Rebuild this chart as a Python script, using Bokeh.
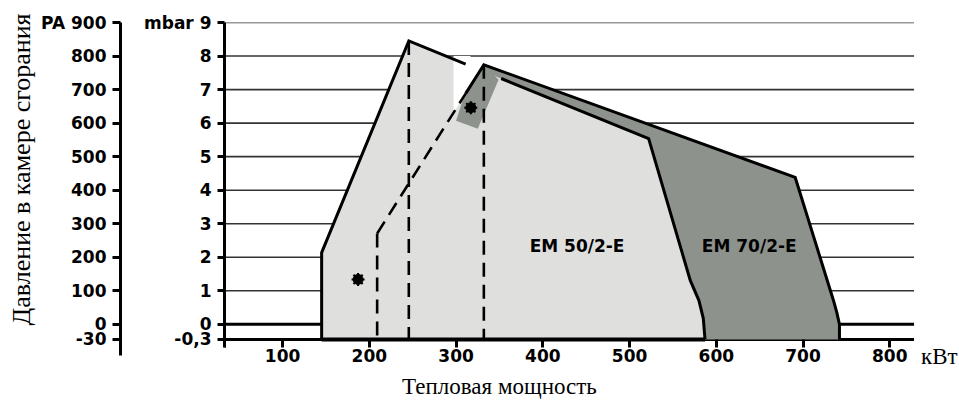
from bokeh.plotting import figure
from bokeh.models import Range1d, LinearAxis, FixedTicker, Title
from bokeh.core.properties import value
from bokeh.embed import file_html
from bokeh.resources import INLINE

# ---------------- data ----------------
x_ticks = [100, 200, 300, 400, 500, 600, 700, 800]
x_tick_labels = ["100", "200", "300", "400", "500", "600", "700", "800"]
mbar_ticks = [-0.3, 0, 1, 2, 3, 4, 5, 6, 7, 8, 9]
mbar_tick_labels = ["-0,3", "0", "1", "2", "3", "4", "5", "6", "7", "8", "mbar 9"]
pa_tick_labels = ["-30", "0", "100", "200", "300", "400", "500", "600", "700", "800", "PA 900"]

# EM 50/2-E working field (kW, mbar)
em50_kw = [145, 145, 245.5, 522, 570, 580, 585, 587]
em50_mbar = [-0.3, 2.14, 8.45, 5.54, 1.31, 0.71, 0.18, -0.3]
# EM 70/2-E working field (kW, mbar)
em70_kw = [209, 209, 332, 691, 735, 739, 742, 742]
em70_mbar = [-0.3, 2.71, 7.74, 4.38, 0.72, 0.35, 0.0, -0.3]

# break in the EM 50 outline (white notch) and highlighted patch
notch_kw = [297, 316, 330, 297]
notch_mbar = [8.0, 8.0, 7.66, 6.3]
patch_kw = [332, 349, 325, 300, 311]
patch_mbar = [7.74, 7.29, 5.83, 6.07, 6.96]

# outline pieces
em50_left_kw = [145, 145, 245.5, 311]
em50_left_mbar = [-0.3, 2.14, 8.45, 7.76]
em50_right_kw = [352, 522, 570, 580, 585, 587]
em50_right_mbar = [7.33, 5.54, 1.31, 0.71, 0.18, -0.3]
em70_solid_kw = [311, 332, 691, 735, 739, 742, 742]
em70_solid_mbar = [6.88, 7.74, 4.38, 0.72, 0.35, 0.0, -0.3]
em70_dashed_kw = [209, 311]
em70_dashed_mbar = [2.71, 6.88]

# vertical dashed guides (kW, top mbar)
guide_kw = [209, 245.5, 332]
guide_top = [2.71, 8.45, 7.74]

# operating points
pt_kw = [187, 317]
pt_mbar = [1.34, 6.46]

models = ["EM 50/2-E", "EM 70/2-E"]
model_kw = [439.5, 638]
model_mbar = [2.34, 2.34]

x_title = "Тепловая мощность"
x_unit = "кВт"
y_title = "Давление в камере сгорания"

# ---------------- layout constants ----------------
x_start, x_end, lines_end = 33, 880.4, 828
y_end, y_start = 9, -2.33

def ypos(v):
    # broken axis: the segment below 0 is drawn stretched, as in the original
    return v * 1.5 if v < 0 else v

def ys(vals):
    return [ypos(v) for v in vals]

LIGHT = "#dfe0de"
DARK = "#8d928c"
BOLD_FONT = "DejaVu Sans"
SERIF = "Liberation Serif"
base = ypos(-0.3)

p = figure(width=959, height=402, output_backend="svg", toolbar_location=None,
           x_range=Range1d(x_start, x_end), y_range=Range1d(y_start, y_end),
           min_border_left=224, min_border_right=0, min_border_top=22, min_border_bottom=0)
p.outline_line_color = None
p.xgrid.visible = False
p.ygrid.visible = False
p.background_fill_color = "white"
p.border_fill_color = "white"

def style_axis(ax, tick_out, standoff):
    ax.axis_line_width = 3
    ax.major_tick_line_width = 3
    ax.major_tick_out = tick_out
    ax.major_tick_in = 0
    ax.minor_tick_line_color = None
    ax.major_label_standoff = standoff
    ax.major_label_text_font = BOLD_FONT
    ax.major_label_text_font_style = "bold"
    ax.major_label_text_font_size = "17px"
    ax.major_label_text_color = "black"

# --- mbar axis (inner) ---
ya = p.yaxis[0]
ya.ticker = FixedTicker(ticks=ys(mbar_ticks))
ya.major_label_overrides = {ypos(t): l for t, l in zip(mbar_ticks, mbar_tick_labels)}
style_axis(ya, 7, 6)
ya.bounds = (base - 0.24, y_end)
ya.axis_label = "\u00a0"
ya.axis_label_text_font_size = "12px"
ya.axis_label_standoff = 4

# --- PA axis (outer) ---
p.extra_y_ranges = {"pa": Range1d(y_start * 100, y_end * 100)}
pa = LinearAxis(y_range_name="pa")
pa.ticker = FixedTicker(ticks=[ypos(t) * 100 for t in mbar_ticks])
pa.major_label_overrides = {ypos(t) * 100: l for t, l in zip(mbar_ticks, pa_tick_labels)}
style_axis(pa, 8, 6)
pa.bounds = ((base - 0.47) * 100, y_end * 100)
p.add_layout(pa, "left")

# --- y title ---
p.add_layout(Title(text=y_title, align="left", offset=77, standoff=2, vertical_align="top",
                   text_font=SERIF, text_font_style="normal", text_font_size="26px",
                   text_color="black"), "left")

# --- x axis, drawn at the -0,3 line ---
xa = p.xaxis[0]
xa.fixed_location = base
xa.ticker = FixedTicker(ticks=[x_start] + x_ticks)
xa.major_label_overrides = {x_start: "", **{t: l for t, l in zip(x_ticks, x_tick_labels)}}
style_axis(xa, 8, 2)
xa.axis_line_color = None

# --- horizontal lines ---
grid_vals = [t for t in mbar_ticks if t > 0]
p.segment(x0=[x_start] * len(grid_vals), x1=[lines_end] * len(grid_vals),
          y0=grid_vals, y1=grid_vals, line_color="#333333", line_width=1.6)
p.segment(x0=[x_start, x_start], x1=[lines_end, lines_end],
          y0=[ypos(0), base], y1=[ypos(0), base],
          line_color="black", line_width=3)

# --- fields ---
p.patch(em70_kw, ys(em70_mbar), fill_color=DARK, line_color=None)
p.patch(em50_kw, ys(em50_mbar), fill_color=LIGHT, line_color=None)
p.patch(notch_kw, ys(notch_mbar), fill_color="white", line_color=None)
p.patch(patch_kw, ys(patch_mbar), fill_color=DARK, line_color=None)

# --- outlines ---
for kx, my in [(em50_left_kw, em50_left_mbar), (em50_right_kw, em50_right_mbar),
               (em70_solid_kw, em70_solid_mbar)]:
    p.line(kx, ys(my), line_color="black", line_width=3, line_join="miter")
p.line(em70_dashed_kw, ys(em70_dashed_mbar), line_color="black", line_width=2.6,
       line_dash="14 8")
p.segment(x0=guide_kw, x1=guide_kw, y0=guide_top, y1=[base] * len(guide_kw),
          line_color="black", line_width=2.6, line_dash="14 8")
p.segment(x0=[145], x1=[587], y0=[base], y1=[base], line_color="black", line_width=4)

# --- operating points ---
p.scatter(pt_kw, pt_mbar, marker="circle", size=10, color="black")
p.scatter(pt_kw, pt_mbar, marker="asterisk", size=13, line_color="black", line_width=2)

# --- model labels ---
p.text(model_kw, model_mbar, text=models, text_font=value(BOLD_FONT), text_font_style="bold",
       text_font_size="17px", text_align="center", text_baseline="middle", text_color="black")

# --- unit and x title ---
p.text([836], [-0.95], text=[x_unit], text_font=value(SERIF), text_font_size="23px",
       text_align="left", text_baseline="middle", text_color="black")
p.text([350], [-1.86], text=[x_title], text_font=value(SERIF), text_font_size="23px",
       text_align="center", text_baseline="middle", text_color="black")

open("out.html", "w").write(file_html(p, INLINE))
